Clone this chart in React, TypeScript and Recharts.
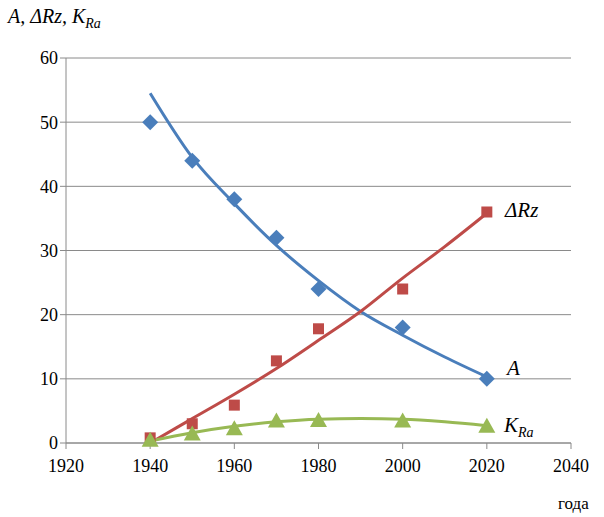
import { ComposedChart, Line, Scatter, XAxis, YAxis, CartesianGrid } from 'recharts';

const years = [1940, 1950, 1960, 1970, 1980, 2000, 2020];
const aValues = [50, 44, 38, 32, 24, 18, 10];
const rzValues = [0.8, 3, 5.9, 12.8, 17.8, 24, 36];
const kraValues = [0.5, 1.5, 2.3, 3.5, 3.6, 3.5, 2.7];

// trend lines every 10 years
const trendYears = [1940, 1950, 1960, 1970, 1980, 1990, 2000, 2010, 2020];
const aTrend = [54.5, 44.5, 37.3, 30.8, 25.3, 20.5, 16.8, 13.4, 10.3];
const rzTrend = [0, 3.8, 7.6, 11.6, 16, 20.5, 25.7, 30.6, 35.8];
const kraTrend = [0.3, 1.6, 2.6, 3.3, 3.7, 3.8, 3.7, 3.3, 2.7];

const xTicks = [1920, 1940, 1960, 1980, 2000, 2020, 2040];
const yTicks = [0, 10, 20, 30, 40, 50, 60];

const BLUE = '#4a7ebb';
const RED = '#be4b48';
const GREEN = '#98b954';
const GRID = '#8a8a8a';

const pts = (vals: number[]) => years.map((year, i) => ({ year, v: vals[i] }));
const trend = (vals: number[]) => trendYears.map((year, i) => ({ year, v: vals[i] }));

const Diamond = (p: any) => (
  <path d={`M${p.cx},${p.cy - 8} L${p.cx + 8},${p.cy} L${p.cx},${p.cy + 8} L${p.cx - 8},${p.cy} Z`} fill={BLUE} />
);
const Square = (p: any) => <rect x={p.cx - 5.5} y={p.cy - 5.5} width={11} height={11} fill={RED} />;
const Triangle = (p: any) => (
  <path d={`M${p.cx},${p.cy - 8} L${p.cx + 8.5},${p.cy + 7} L${p.cx - 8.5},${p.cy + 7} Z`} fill={GREEN} />
);

const serif = "'Times New Roman', Tinos, 'Liberation Serif', 'DejaVu Serif', 'Noto Serif', serif";
const tickStyle = { fontSize: 18, fill: '#000', fontFamily: serif };

export default function App() {
  return (
    <div style={{ position: 'absolute', left: 0, top: 0, width: 604, height: 517, background: '#fff', fontFamily: serif }}>
      <ComposedChart width={604} height={517} margin={{ top: 58, right: 33, bottom: 44, left: 0 }} style={{ fontFamily: serif }}>
        <CartesianGrid horizontal vertical={false} stroke={GRID} />
        <XAxis
          type="number"
          dataKey="year"
          domain={[1920, 2040]}
          ticks={xTicks}
          height={30}
          stroke={GRID}
          tickSize={6}
          tick={{ ...tickStyle, dy: 8 }}
          allowDuplicatedCategory={false}
        />
        <YAxis
          type="number"
          domain={[0, 60]}
          ticks={yTicks}
          width={66}
          stroke={GRID}
          tickSize={6}
          tick={tickStyle}
        />
        <Line data={trend(aTrend)} dataKey="v" type="monotone" stroke={BLUE} strokeWidth={3} dot={false} isAnimationActive={false} />
        <Line data={trend(rzTrend)} dataKey="v" type="monotone" stroke={RED} strokeWidth={3} dot={false} isAnimationActive={false} />
        <Line data={trend(kraTrend)} dataKey="v" type="monotone" stroke={GREEN} strokeWidth={3} dot={false} isAnimationActive={false} />
        <Scatter data={pts(aValues)} dataKey="v" shape={Diamond} isAnimationActive={false} />
        <Scatter data={pts(rzValues)} dataKey="v" shape={Square} isAnimationActive={false} />
        <Scatter data={pts(kraValues)} dataKey="v" shape={Triangle} isAnimationActive={false} />
      </ComposedChart>
      <div style={{ position: 'absolute', left: 8, top: 5, fontSize: 20, fontStyle: 'italic' }}>
        A, ΔRz, K<sub style={{ fontSize: 14 }}>Ra</sub>
      </div>
      <div style={{ position: 'absolute', left: 505, top: 198, fontSize: 21, fontStyle: 'italic' }}>ΔRz</div>
      <div style={{ position: 'absolute', left: 507, top: 356, fontSize: 21, fontStyle: 'italic' }}>A</div>
      <div style={{ position: 'absolute', left: 504, top: 413, fontSize: 21, fontStyle: 'italic' }}>
        K<sub style={{ fontSize: 14 }}>Ra</sub>
      </div>
      <div style={{ position: 'absolute', left: 558, top: 494, fontSize: 17 }}>года</div>
    </div>
  );
}
